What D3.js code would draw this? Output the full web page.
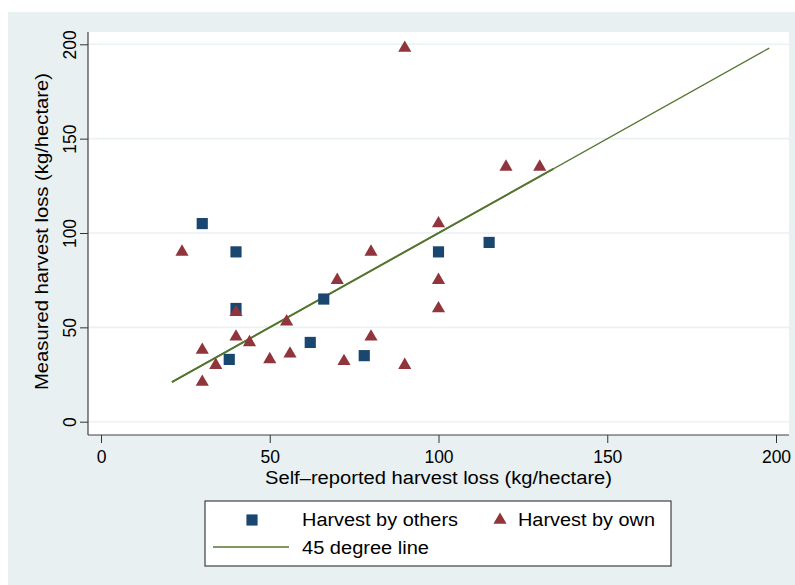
<!DOCTYPE html>
<html>
<head>
<meta charset="utf-8">
<script src="https://cdn.jsdelivr.net/npm/d3@7"></script>
<style>
    body { margin: 0; background: #ffffff; }
    text { font-family: "Liberation Sans", Arial, Helvetica, sans-serif; fill: #000; }
</style>
</head>
<body>
<div id="chart"></div>
<script>

// harvest done by others (squares)
let othersX = [30, 40, 40, 38, 66, 62, 78, 100, 115];
let othersY = [105, 90, 60, 33, 65, 42, 35, 90, 95];

// harvest done by own household (triangles)
let ownX = [90, 24, 80, 70, 100, 100, 100, 40, 55, 40, 44, 30, 80, 56, 34, 50, 72, 90, 30, 120, 130];
let ownY = [198, 90, 90, 75, 105, 75, 60, 58, 53, 45, 42, 38, 45, 36, 30, 33, 32, 30, 21, 135, 135];

// 45 degree line segments (two overlapping ranges)
let lineRanges = [[21, 134], [21, 198]];

let xTicks = [0, 50, 100, 150, 200];
let yTicks = [0, 50, 100, 150, 200];

let legendLabels = ["Harvest by others", "Harvest by own", "45 degree line"];

let navy = "#1a476f", maroon = "#90353b", green = "#55752f";

let W = 795, H = 585;

let svg = d3.select("#chart").append("svg")
    .attr("width", W)
    .attr("height", H);

// graph region
svg.append("rect")
    .attr("x", 8).attr("y", 12)
    .attr("width", W - 8).attr("height", H - 12)
    .attr("fill", "#e8f0f2");

// plot region
let plot = {left: 88, right: 789, top: 32, bottom: 435};

svg.append("rect")
    .attr("x", plot.left).attr("y", plot.top)
    .attr("width", plot.right - plot.left).attr("height", plot.bottom - plot.top)
    .attr("fill", "#ffffff");

let x = d3.scaleLinear().domain([0, 200]).range([101, 776]);
let y = d3.scaleLinear().domain([0, 200]).range([421.7, 44.3]);

// gridlines
svg.selectAll(".grid")
    .data(yTicks)
    .enter()
    .append("line")
    .attr("class", "grid")
    .attr("x1", plot.left).attr("x2", plot.right)
    .attr("y1", d => y(d)).attr("y2", d => y(d))
    .attr("stroke", "#eaf2f3")
    .attr("stroke-width", 1.6);

// axes
let xAxis = svg.append("g")
    .attr("transform", `translate(0, ${plot.bottom})`)
    .call(d3.axisBottom(x).tickValues(xTicks).tickSize(8).tickPadding(8));

let yAxis = svg.append("g")
    .attr("transform", `translate(${plot.left}, 0)`)
    .call(d3.axisLeft(y).tickValues(yTicks).tickSize(8));

[xAxis, yAxis].forEach(ax => {
    ax.select(".domain").remove();
    ax.selectAll(".tick line").attr("stroke", "#333").attr("stroke-width", 1);
    ax.selectAll(".tick text")
        .attr("font-size", 17.5)
        .attr("font-family", "Liberation Sans, Arial, sans-serif")
        .attr("fill", "#000");
});

// rotate y tick labels
yAxis.selectAll(".tick text")
    .attr("x", null).attr("dy", null)
    .attr("text-anchor", "middle")
    .attr("transform", "translate(-12, 0) rotate(-90)");

// axis lines
svg.append("line")
    .attr("x1", plot.left).attr("x2", plot.right)
    .attr("y1", plot.bottom).attr("y2", plot.bottom)
    .attr("stroke", "#404040").attr("stroke-width", 1.2);
svg.append("line")
    .attr("x1", plot.left).attr("x2", plot.left)
    .attr("y1", plot.top).attr("y2", plot.bottom)
    .attr("stroke", "#404040").attr("stroke-width", 1.2);

// axis titles (stretched to the reference widths)
svg.append("text")
    .attr("x", 265).attr("y", 484)
    .attr("font-size", 18)
    .attr("textLength", 347)
    .attr("lengthAdjust", "spacingAndGlyphs")
    .text("Self\u2013reported harvest loss (kg/hectare)");

svg.append("text")
    .attr("transform", "translate(48, 390) rotate(-90)")
    .attr("font-size", 18)
    .attr("textLength", 317)
    .attr("lengthAdjust", "spacingAndGlyphs")
    .text("Measured harvest loss (kg/hectare)");

// 45 degree lines, the shorter one overlaps and looks heavier
svg.selectAll(".diag")
    .data(lineRanges)
    .enter()
    .append("line")
    .attr("class", "diag")
    .attr("x1", d => x(d[0])).attr("y1", d => y(d[0]))
    .attr("x2", d => x(d[1])).attr("y2", d => y(d[1]))
    .attr("stroke", green)
    .attr("stroke-width", (d, i) => i === 0 ? 2 : 1.3);

// markers
let square = d3.symbol().type(d3.symbolSquare).size(125);
let triangle = d3.symbol().type(d3.symbolTriangle).size(75);

let othersData = othersX.map((v, i) => ({x: v, y: othersY[i]}));
let ownData = ownX.map((v, i) => ({x: v, y: ownY[i]}));

svg.selectAll(".others")
    .data(othersData)
    .enter()
    .append("path")
    .attr("class", "others")
    .attr("d", square)
    .attr("transform", d => `translate(${x(d.x)}, ${y(d.y)})`)
    .attr("fill", navy);

svg.selectAll(".own")
    .data(ownData)
    .enter()
    .append("path")
    .attr("class", "own")
    .attr("d", triangle)
    .attr("transform", d => `translate(${x(d.x)}, ${y(d.y)})`)
    .attr("fill", maroon);

// legend
let legend = svg.append("g");

legend.append("rect")
    .attr("x", 205).attr("y", 501)
    .attr("width", 466).attr("height", 65)
    .attr("fill", "#fff")
    .attr("stroke", "#404040")
    .attr("stroke-width", 1.2);

legend.append("path")
    .attr("d", square)
    .attr("transform", "translate(252, 520)")
    .attr("fill", navy);

legend.append("path")
    .attr("d", triangle)
    .attr("transform", "translate(500, 520)")
    .attr("fill", maroon);

legend.append("line")
    .attr("x1", 213).attr("x2", 289)
    .attr("y1", 547).attr("y2", 547)
    .attr("stroke", green)
    .attr("stroke-width", 1.3);

let legendPos = [[302, 526], [518, 526], [302, 554]];
let legendWidths = [156, 137, 127];
legend.selectAll(".ltext")
    .data(legendLabels)
    .enter()
    .append("text")
    .attr("class", "ltext")
    .attr("x", (d, i) => legendPos[i][0])
    .attr("y", (d, i) => legendPos[i][1])
    .attr("font-size", 18)
    .attr("textLength", (d, i) => legendWidths[i])
    .attr("lengthAdjust", "spacingAndGlyphs")
    .text(d => d);

</script>
</body>
</html>
